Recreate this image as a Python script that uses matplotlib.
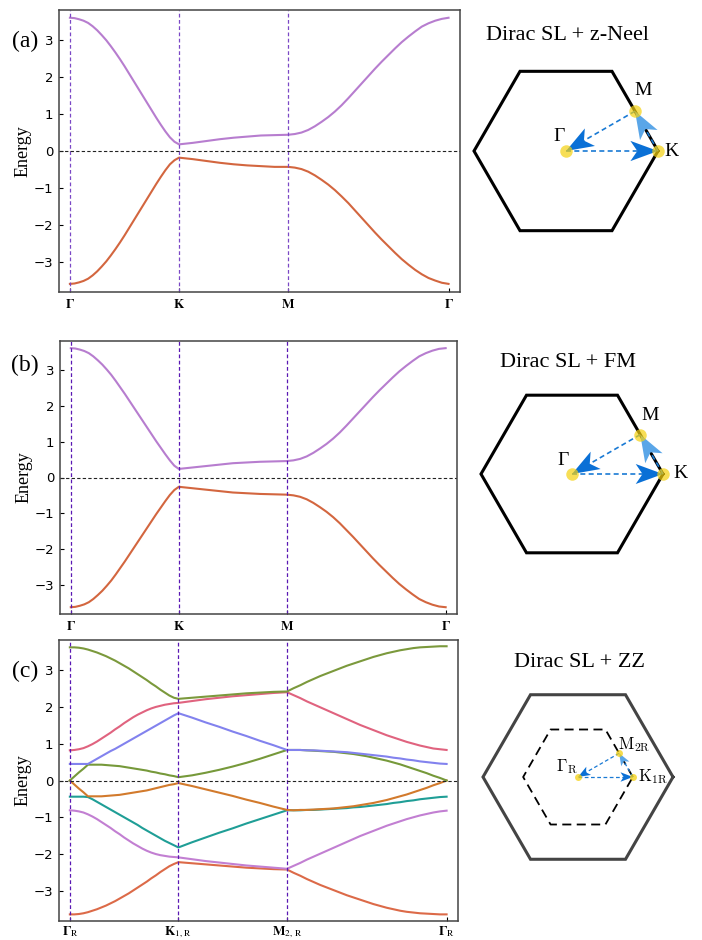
import numpy as np
import matplotlib
matplotlib.use("Agg")
import matplotlib.pyplot as plt

plt.rcParams['mathtext.fontset'] = 'stix'
SERIF = 'Liberation Serif'

# k-path nodes (x positions of the high symmetry points)
NODE_X = [0.0, 1.0, 2.0, 3.47]
N_GK, N_KM, N_MG = 25, 9, 25   # samples per segment (ends shared)

TICKS_AB = [r'$\mathbf{\Gamma}$', r'$\mathbf{K}$', r'$\mathbf{M}$', r'$\mathbf{\Gamma}$']
TICKS_C = [r'$\mathbf{\Gamma}_\mathrm{R}$', r'$\mathbf{K}_{1,\,\mathrm{R}}$',
           r'$\mathbf{M}_{2,\,\mathrm{R}}$', r'$\mathbf{\Gamma}_\mathrm{R}$']

# (a) Dirac SL + z-Neel   (Gamma-K | K-M | M-Gamma)
a_upper = [3.61, 3.60, 3.57, 3.53, 3.47, 3.38, 3.27, 3.14, 3.00, 2.84, 2.67, 2.49, 2.30,
           2.10, 1.90, 1.70, 1.50, 1.30, 1.10, 0.90, 0.71, 0.53, 0.37, 0.25, 0.18,
           0.22, 0.27, 0.32, 0.36, 0.39, 0.42, 0.43, 0.44,
           0.46, 0.50, 0.57, 0.67, 0.79, 0.92, 1.07, 1.24, 1.43, 1.63, 1.83, 2.03,
           2.23, 2.42, 2.60, 2.78, 2.95, 3.10, 3.24, 3.37, 3.46, 3.53, 3.58, 3.61]
a_lower = [-3.60, -3.59, -3.56, -3.52, -3.46, -3.37, -3.26, -3.13, -2.99, -2.83, -2.66, -2.48, -2.29,
           -2.09, -1.89, -1.69, -1.49, -1.29, -1.09, -0.89, -0.70, -0.52, -0.36, -0.25, -0.18,
           -0.22, -0.27, -0.32, -0.36, -0.39, -0.41, -0.43, -0.43,
           -0.45, -0.49, -0.56, -0.66, -0.78, -0.91, -1.06, -1.23, -1.41, -1.61, -1.81, -2.01,
           -2.21, -2.40, -2.58, -2.76, -2.93, -3.08, -3.22, -3.34, -3.44, -3.51, -3.57, -3.60]

# (b) Dirac SL + FM
b_upper = [3.62, 3.61, 3.58, 3.54, 3.48, 3.39, 3.28, 3.16, 3.02, 2.87, 2.70, 2.52, 2.34,
           2.15, 1.96, 1.77, 1.58, 1.39, 1.20, 1.01, 0.83, 0.65, 0.48, 0.33, 0.24,
           0.28, 0.32, 0.36, 0.40, 0.42, 0.44, 0.45, 0.46,
           0.48, 0.52, 0.59, 0.69, 0.81, 0.94, 1.09, 1.26, 1.45, 1.65, 1.85, 2.05,
           2.25, 2.44, 2.62, 2.80, 2.97, 3.12, 3.26, 3.39, 3.48, 3.55, 3.60, 3.62]
b_lower = [-3.63, -3.62, -3.59, -3.55, -3.49, -3.40, -3.29, -3.17, -3.03, -2.88, -2.71, -2.53, -2.35,
           -2.16, -1.97, -1.78, -1.59, -1.40, -1.21, -1.02, -0.84, -0.66, -0.49, -0.35, -0.26,
           -0.30, -0.34, -0.38, -0.42, -0.44, -0.46, -0.47, -0.48,
           -0.50, -0.54, -0.61, -0.71, -0.83, -0.96, -1.11, -1.28, -1.47, -1.66, -1.86, -2.06,
           -2.26, -2.45, -2.63, -2.81, -2.98, -3.13, -3.27, -3.40, -3.49, -3.56, -3.61, -3.63]

# (c) Dirac SL + ZZ, bands from bottom to top
c_band0 = [-3.64, -3.64, -3.63, -3.61, -3.58, -3.54, -3.50, -3.45, -3.40, -3.34, -3.28, -3.21, -3.14,
           -3.07, -2.99, -2.91, -2.83, -2.75, -2.66, -2.58, -2.49, -2.41, -2.33, -2.27, -2.22,
           -2.25, -2.28, -2.31, -2.34, -2.37, -2.39, -2.41, -2.42,
           -2.51, -2.59, -2.68, -2.76, -2.84, -2.91, -2.98, -3.05, -3.12, -3.18, -3.24, -3.30,
           -3.36, -3.41, -3.46, -3.50, -3.54, -3.57, -3.59, -3.61, -3.62, -3.63, -3.64, -3.64]
c_band1 = [-0.81, -0.82, -0.84, -0.87, -0.92, -0.98, -1.05, -1.13, -1.21, -1.29, -1.38, -1.46, -1.55,
           -1.63, -1.71, -1.78, -1.85, -1.91, -1.96, -2.00, -2.03, -2.05, -2.07, -2.08, -2.09,
           -2.14, -2.19, -2.23, -2.27, -2.31, -2.34, -2.37, -2.40,
           -2.32, -2.24, -2.15, -2.07, -1.99, -1.91, -1.83, -1.75, -1.67, -1.59, -1.51, -1.44,
           -1.37, -1.30, -1.23, -1.17, -1.11, -1.05, -1.00, -0.95, -0.91, -0.87, -0.84, -0.82]
c_band2 = [-0.44, -0.44, -0.44, -0.44, -0.45, -0.51, -0.58, -0.65, -0.72, -0.79, -0.86, -0.93, -1.00,
           -1.07, -1.14, -1.21, -1.29, -1.36, -1.43, -1.50, -1.57, -1.64, -1.70, -1.76, -1.82,
           -1.68, -1.55, -1.42, -1.30, -1.17, -1.05, -0.93, -0.81,
           -0.81, -0.81, -0.80, -0.80, -0.79, -0.78, -0.77, -0.76, -0.75, -0.73, -0.72, -0.70,
           -0.68, -0.66, -0.64, -0.61, -0.59, -0.56, -0.54, -0.51, -0.49, -0.47, -0.45, -0.44]
c_band3 = [0.00, -0.11, -0.22, -0.32, -0.43, -0.43, -0.43, -0.43, -0.42, -0.41, -0.40, -0.39, -0.37,
           -0.35, -0.33, -0.31, -0.29, -0.27, -0.24, -0.21, -0.18, -0.15, -0.12, -0.10, -0.07,
           -0.15, -0.24, -0.33, -0.42, -0.52, -0.61, -0.71, -0.80,
           -0.81, -0.80, -0.80, -0.79, -0.78, -0.77, -0.76, -0.74, -0.72, -0.70, -0.67, -0.64,
           -0.61, -0.57, -0.53, -0.48, -0.43, -0.38, -0.32, -0.26, -0.20, -0.13, -0.07, 0.00]
c_band4 = [0.00, 0.11, 0.22, 0.32, 0.43, 0.43, 0.43, 0.43, 0.42, 0.41, 0.40, 0.39, 0.37,
           0.35, 0.33, 0.31, 0.29, 0.27, 0.24, 0.22, 0.19, 0.17, 0.14, 0.12, 0.09,
           0.14, 0.21, 0.29, 0.38, 0.48, 0.59, 0.71, 0.83,
           0.83, 0.83, 0.82, 0.81, 0.80, 0.79, 0.78, 0.76, 0.74, 0.72, 0.69, 0.66,
           0.62, 0.58, 0.54, 0.49, 0.44, 0.38, 0.32, 0.26, 0.20, 0.13, 0.07, 0.00]
c_band5 = [0.45, 0.45, 0.45, 0.45, 0.45, 0.52, 0.59, 0.66, 0.73, 0.80, 0.86, 0.93, 1.00,
           1.07, 1.14, 1.21, 1.28, 1.35, 1.42, 1.49, 1.56, 1.63, 1.70, 1.77, 1.83,
           1.71, 1.58, 1.46, 1.33, 1.21, 1.08, 0.96, 0.83,
           0.83, 0.83, 0.82, 0.82, 0.81, 0.80, 0.79, 0.78, 0.77, 0.75, 0.73, 0.71,
           0.69, 0.67, 0.65, 0.62, 0.60, 0.57, 0.55, 0.52, 0.50, 0.48, 0.46, 0.45]
c_band6 = [0.82, 0.83, 0.85, 0.88, 0.93, 0.99, 1.06, 1.14, 1.22, 1.30, 1.39, 1.47, 1.56,
           1.64, 1.72, 1.79, 1.85, 1.91, 1.96, 2.00, 2.03, 2.06, 2.08, 2.10, 2.11,
           2.16, 2.21, 2.25, 2.29, 2.32, 2.35, 2.38, 2.40,
           2.32, 2.24, 2.15, 2.07, 1.99, 1.91, 1.83, 1.75, 1.67, 1.59, 1.51, 1.44,
           1.37, 1.30, 1.23, 1.17, 1.11, 1.05, 1.00, 0.95, 0.91, 0.87, 0.85, 0.83]
c_band7 = [3.62, 3.62, 3.61, 3.59, 3.56, 3.52, 3.48, 3.43, 3.38, 3.32, 3.26, 3.19, 3.12,
           3.05, 2.97, 2.89, 2.81, 2.73, 2.64, 2.56, 2.47, 2.39, 2.31, 2.25, 2.22,
           2.25, 2.28, 2.31, 2.34, 2.37, 2.39, 2.41, 2.42,
           2.51, 2.59, 2.68, 2.76, 2.84, 2.91, 2.98, 3.05, 3.12, 3.18, 3.24, 3.30,
           3.36, 3.41, 3.46, 3.50, 3.54, 3.57, 3.60, 3.62, 3.63, 3.64, 3.65, 3.65]

C_BANDS = [c_band0, c_band1, c_band2, c_band3, c_band4, c_band5, c_band6, c_band7]
C_COLORS = ['#dc6a48', '#c27fd2', '#1f9e96', '#d27a2c', '#76993a', '#8282ee', '#e0637f', '#7b993c']

W, H = 702, 940
fig = plt.figure(figsize=(W / 100, H / 100), dpi=100)


def px_axes(left, top, right, bottom):
    return fig.add_axes([left / W, 1 - bottom / H, (right - left) / W, (bottom - top) / H])


def kpath():
    s1 = np.linspace(NODE_X[0], NODE_X[1], N_GK)
    s2 = np.linspace(NODE_X[1], NODE_X[2], N_KM)[1:]
    s3 = np.linspace(NODE_X[2], NODE_X[3], N_MG)[1:]
    return np.concatenate([s1, s2, s3])


def band_panel(ax, bands, colors, labels, vcolor, tag, tag_y, xpad=4):
    k = kpath()
    for e, c in zip(bands, colors):
        ax.plot(k, e, color=c, lw=1.5)
    for xv in NODE_X[:3]:
        ax.axvline(xv, color=vcolor, ls='--', lw=0.9, dashes=(3, 2))
    ax.axhline(0, color='#222222', ls='--', lw=0.8, dashes=(3, 2))
    ax.set_xlim(-0.1, 3.575)
    ax.set_ylim(-3.82, 3.82)
    ax.set_xticks(NODE_X)
    ax.set_xticklabels(labels, fontsize=12)
    ax.set_yticks([-3, -2, -1, 0, 1, 2, 3])
    ax.tick_params(direction='in', length=3, labelsize=9.5, pad=4)
    ax.tick_params(axis='x', pad=xpad)
    for sp in ax.spines.values():
        sp.set_color('#444444')
        sp.set_linewidth(1.1)
    ax.set_ylabel('Energy', family=SERIF, fontsize=13, labelpad=2)
    fig.text(25 / W, 1 - tag_y / H, tag, family=SERIF, fontsize=17, ha='center', va='center')


ax_a = px_axes(59, 10, 460, 292)
band_panel(ax_a, [a_upper, a_lower], ['#b77dcf', '#d3663f'], TICKS_AB, '#7b48c6', '(a)', 41)
ax_b = px_axes(60, 341, 457, 614)
band_panel(ax_b, [b_upper, b_lower], ['#b77dcf', '#d3663f'], TICKS_AB, '#5a18b4', '(b)', 365)
ax_c = px_axes(59, 640, 458, 921)
band_panel(ax_c, C_BANDS, C_COLORS, TICKS_C, '#5a18b4', '(c)', 671, xpad=2)

# Brillouin zone sketches (hexagon circumradius = 1)
ang = np.deg2rad(np.arange(0, 361, 60))
HEX_X, HEX_Y = np.cos(ang), np.sin(ang)


def bz_axes(cx, cy, R, hw=130, hh=140):
    ax = fig.add_axes([(cx - hw) / W, 1 - (cy + hh) / H, 2 * hw / W, 2 * hh / H])
    ax.set_xlim(-hw / R, hw / R)
    ax.set_ylim(-hh / R, hh / R)
    ax.axis('off')
    return ax


def arrow(ax, p0, p1, color, L, hw, lw):
    # dashed shaft plus a notched dart-shaped head whose tip sits on p1
    p0, p1 = np.array(p0), np.array(p1)
    u = (p1 - p0) / np.hypot(*(p1 - p0))
    n = np.array([-u[1], u[0]])
    notch = p1 - 0.75 * L * u
    ax.plot([p0[0], notch[0]], [p0[1], notch[1]], color='#1a7ad4', lw=lw, ls='--', dashes=(3, 2))
    verts = np.array([p1, p1 - L * u + hw * n, notch, p1 - L * u - hw * n])
    ax.fill(verts[:, 0], verts[:, 1], color=color, lw=0, zorder=3)


def bz_simple(cx, cy, R, title, title_xy, gam_xy, m_xy, k_xy):
    ax = bz_axes(cx, cy, R)
    G, K, M = (0.0, 0.0), (1.0, 0.0), (0.75, np.sqrt(3) / 4)
    ax.plot(HEX_X, HEX_Y, color='black', lw=2.2, solid_joinstyle='miter')
    arrow(ax, G, K, '#0a70d6', 0.30, 0.11, 1.2)
    arrow(ax, K, M, '#5aa6e8', 0.30, 0.11, 1.2)
    arrow(ax, M, G, '#0a70d6', 0.30, 0.11, 1.2)
    ax.plot([G[0], K[0], M[0]], [G[1], K[1], M[1]], 'o', color='#f5d10f', alpha=0.7, ms=9,
            mec='none', zorder=4)
    ax.text(*title_xy, title, family=SERIF, fontsize=16, ha='center', va='center')
    ax.text(*gam_xy, 'Γ', family=SERIF, fontsize=14, ha='center', va='center')
    ax.text(*m_xy, 'M', family=SERIF, fontsize=14, ha='center', va='center')
    ax.text(*k_xy, 'K', family=SERIF, fontsize=14, ha='center', va='center')


bz_simple(566, 151, 92, 'Dirac SL + z-Neel', (0.02, 1.26), (-0.07, 0.16), (0.84, 0.66), (1.15, 0.0))
bz_simple(572, 474, 91, 'Dirac SL + FM', (-0.04, 1.23), (-0.10, 0.15), (0.86, 0.64), (1.19, 0.0))

# (c) zigzag: reduced zone inside the original one
ax = bz_axes(578, 777, 95)
r = 1 / np.sqrt(3)
G, K, M = (0.0, 0.0), (r, 0.0), (0.75 * r, r * np.sqrt(3) / 4)
ax.plot(HEX_X, HEX_Y, color='#444444', lw=2.2, solid_joinstyle='miter')
ax.plot(r * HEX_X, r * HEX_Y, color='black', lw=1.3, ls='--', dashes=(5, 3))
arrow(ax, G, K, '#0a70d6', 0.13, 0.05, 0.9)
arrow(ax, K, M, '#5aa6e8', 0.13, 0.05, 0.9)
arrow(ax, M, G, '#0a70d6', 0.13, 0.05, 0.9)
ax.plot([G[0], K[0], M[0]], [G[1], K[1], M[1]], 'o', color='#f5d10f', alpha=0.75, ms=5,
        mec='none', zorder=4)
ax.text(0.02, 1.21, 'Dirac SL + ZZ', family=SERIF, fontsize=16, ha='center', va='center')
ax.text(-0.12, 0.11, r'$\Gamma_\mathrm{R}$', fontsize=12, ha='center', va='center', math_fontfamily='cm')
ax.text(0.59, 0.34, r'$\mathrm{M}_{2\mathrm{R}}$', fontsize=12, ha='center', va='center', math_fontfamily='cm')
ax.text(0.79, 0.0, r'$\mathrm{K}_{1\mathrm{R}}$', fontsize=12, ha='center', va='center', math_fontfamily='cm')

fig.savefig('out.png', dpi=100)
